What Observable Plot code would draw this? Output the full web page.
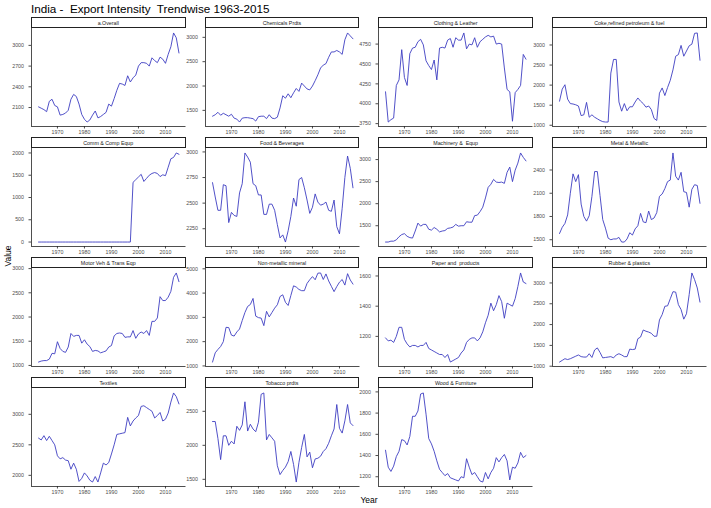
<!DOCTYPE html>
<html>
<head>
<meta charset="utf-8">
<script src="https://cdn.jsdelivr.net/npm/d3@7"></script>
<script src="https://cdn.jsdelivr.net/npm/@observablehq/plot@0.6"></script>
<style>
  html, body { margin: 0; padding: 0; background: #fff; }
  #chart { position: relative; width: 711px; height: 508px; overflow: hidden; font-family: "Liberation Sans", Arial, sans-serif; background: #fff; }
  .title { position: absolute; left: 31px; top: 2px; font-size: 11.7px; color: #000; white-space: pre; }
  .strip { position: absolute; box-sizing: border-box; border: 1px solid #222; background: #fff; font-size: 5.3px; color: #1a1a1a; text-align: center; white-space: pre; display: flex; align-items: center; justify-content: center; }
  .ylab { position: absolute; left: 8px; top: 256px; transform: translate(-50%, -50%) rotate(-90deg); font-size: 8.5px; color: #000; }
  .xlab { position: absolute; left: 369px; top: 499.5px; transform: translate(-50%, -50%); font-size: 8.5px; color: #000; }
  .panel { position: absolute; }
</style>
</head>
<body>
<div id="chart"></div>
<script>
const years = [1963,1964,1965,1966,1967,1968,1969,1970,1971,1972,1973,1974,1975,1976,1977,1978,1979,1980,1981,1982,1983,1984,1985,1986,1987,1988,1989,1990,1991,1992,1993,1994,1995,1996,1997,1998,1999,2000,2001,2002,2003,2004,2005,2006,2007,2008,2009,2010,2011,2012,2013,2014,2015];

const panelNames = ["a.Overall", "Chemicals Prdts", "Clothing & Leather", "Coke,refined petroleum & fuel",
  "Comm & Comp Equp", "Food & Beverages", "Machinery &  Equp", "Metal & Metallic",
  "Motor Veh & Trans Eqp", "Non-metallic mineral", "Paper and  products", "Rubber & plastics",
  "Textiles", "Tobacco prdts", "Wood & Furniture"];

const overall = [2110,2090,2070,2040,2190,2220,2130,2110,1990,2000, 2020,2060,2220,2290,2260,2150,2000,1930,1890,1920, 1990,2050,1950,1970,2000,2030,2150,2120,2230,2350, 2450,2440,2420,2560,2470,2530,2570,2700,2750,2750, 2740,2700,2820,2780,2750,2830,2800,2740,2870,2980, 3180,3110,2890];
const chemicals = [1380,1410,1460,1400,1440,1410,1380,1420,1340,1320, 1260,1340,1350,1350,1340,1330,1280,1370,1380,1380, 1330,1410,1340,1330,1360,1550,1800,1750,1840,1760, 1860,1950,1890,2060,2000,1940,1920,2000,2110,2230, 2370,2430,2460,2590,2700,2700,2730,2700,2650,2950, 3090,3030,2970];
const clothing = [4150,3770,3800,3820,4230,4300,4680,4330,4230,4630, 4700,4710,4780,4810,4740,4540,4480,4430,4550,4300, 4700,4710,4700,4800,4820,4710,4830,4800,4800,4890, 4690,4750,4740,4830,4710,4780,4810,4840,4860,4840, 4850,4750,4760,4750,4450,4180,4150,3780,4140,4180, 4230,4620,4560];
const coke = [1600,1900,2010,1650,1540,1530,1510,1480,1240,1260, 1570,1200,1260,1200,1160,1120,1090,1080,1080,2300, 2640,2640,1580,1350,1540,1360,1460,1460,1580,1680, 1600,1540,1450,1480,1390,1170,1120,1800,1930,1740, 1940,2120,2380,2720,2760,2990,2720,2850,2980,3020, 3290,3300,2620];
const comm = [0,0,0,0,0, 0,0,0,0,0, 0,0,0,0,0, 0,0,0,0,0, 0,0,0,0,0, 0,0,0,0,0, 0,0,0,0,0, 1340,1400,1460,1520,1360,1430,1500,1540,1560,1540,1470,1510,1490,1680,1870,1900,2000,1970];
const food = [2700,2560,2430,2430,2680,2670,2310,2410,2380,2370, 2600,2690,2990,2950,2900,2690,2670,2580,2580,2390, 2390,2490,2490,2430,2290,2160,2190,2120,2230,2370, 2550,2470,2730,2750,2650,2530,2400,2460,2590,2510, 2480,2490,2510,2430,2420,2530,2270,2200,2450,2750, 2960,2840,2650];
const machinery = [1130,1130,1150,1150,1180,1250,1300,1320,1260,1230, 1220,1380,1560,1490,1530,1530,1420,1400,1460,1420, 1360,1380,1390,1440,1450,1470,1530,1490,1500,1500, 1590,1580,1580,1730,1740,1820,1920,2130,2370,2440, 2550,2490,2480,2490,2460,2710,2830,2500,2760,2920, 3150,3050,2970];
const metal = [1580,1660,1710,1820,2100,2350,2250,2340,1960,1800, 1740,1810,2060,2380,2380,2070,1760,1650,1520,1500, 1510,1510,1530,1470,1470,1510,1590,1560,1640,1680, 1840,1730,1720,1870,1760,1780,1850,2060,2090,2160, 2250,2270,2620,2320,2270,2370,2120,2110,1920,2150, 2210,2200,1970];
const motor = [1070,1090,1100,1100,1130,1250,1240,1490,1350,1290, 1270,1380,1660,1600,1620,1620,1460,1530,1440,1390, 1290,1310,1300,1260,1280,1300,1380,1410,1610,1660, 1670,1660,1580,1590,1590,1720,1560,1650,1690,1660, 1720,1620,1910,1910,1980,2420,2340,2340,2410,2530, 2820,2910,2730];
const nonmetal = [1160,1540,1680,1800,2000,2590,2580,2270,2230,2400, 2520,2870,3200,3450,3530,3780,3050,2990,2970,2660, 3250,3020,3200,3380,3520,3860,3930,3620,3490,3900, 4300,4250,4150,4100,4100,4400,4550,4680,4550,4820, 4830,4560,4790,4500,4280,4060,4270,4450,4560,4330, 4800,4540,4370];
const paper = [1190,1170,1175,1160,1200,1260,1260,1180,1150,1130, 1140,1140,1130,1140,1140,1160,1120,1110,1100,1090, 1080,1080,1060,1080,1030,1040,1050,1060,1090,1110, 1160,1180,1190,1190,1170,1190,1230,1290,1340,1420, 1370,1410,1470,1430,1320,1420,1410,1400,1450,1530, 1620,1560,1550];
const rubber = [1100,1140,1180,1160,1180,1210,1240,1270,1230,1220, 1220,1300,1210,1390,1440,1330,1200,1210,1220,1230, 1200,1270,1300,1270,1230,1230,1410,1400,1410,1660, 1700,1870,1840,1820,1790,1720,1720,2110,2240,2440, 2450,2620,2790,2780,2480,2360,2130,2260,2720,3240, 3080,2880,2540];
const textiles = [2610,2580,2650,2570,2640,2570,2500,2320,2270,2290, 2250,2240,2100,2200,2100,1900,1950,2040,1990,1920, 1890,1980,1890,2040,2200,2170,2210,2350,2500,2670, 2680,2690,2700,2950,2810,2890,2940,2980,3130,3140, 3110,3080,3050,2940,2980,3030,2890,2920,3020,3200, 3350,3290,3170];
const tobacco = [2350,2350,2100,1790,2140,2140,2000,2060,2020,2280, 2220,2300,2640,2210,2310,2240,2200,2340,2750,2770, 2080,2160,2110,2060,1700,1570,1630,1680,1760,1910, 1720,1460,1750,1970,2160,1830,1900,1670,1800,1810, 1840,1910,1950,2030,2140,2240,2600,2250,2180,2360, 2600,2330,2290];
const wood = [1450,1290,1250,1300,1390,1440,1550,1540,1500,1580, 1770,1770,1820,1980,1990,1790,1560,1510,1440,1350, 1270,1240,1210,1230,1190,1180,1170,1160,1200,1190, 1370,1290,1220,1240,1200,1160,1150,1240,1180,1240, 1280,1380,1340,1380,1410,1350,1170,1290,1280,1330, 1430,1380,1400];

const seriesValues = [overall, chemicals, clothing, coke, comm, food, machinery, metal, motor, nonmetal, paper, rubber, textiles, tobacco, wood];

const yTicks = [
  [2100,2400,2700,3000], [1500,2000,2500,3000], [3750,4000,4250,4500,4750], [1000,1500,2000,2500,3000],
  [0,500,1000,1500,2000], [2250,2500,2750,3000], [1500,2000,2500,3000], [1500,1800,2100,2400],
  [1000,1500,2000,2500,3000], [1000,2000,3000,4000,5000], [1200,1400,1600], [1000,1500,2000,2500,3000],
  [2000,2500,3000], [1500,2000,2500], [1200,1400,1600,1800,2000]
];
const xTicks = [1970,1980,1990,2000,2010];

const chart = document.getElementById("chart");
const title = document.createElement("div");
title.className = "title";
title.textContent = "India -  Export Intensity  Trendwise 1963-2015";
chart.appendChild(title);

const ML = 31, MR = 4, MB = 10;
const panelW = 154.5, plotH = 98, stripH = 10.5;
const colPitch = 173.7, rowPitch = 120;

function pad(ext) { const r = ext[1] - ext[0]; return [ext[0] - 0.05 * r, ext[1] + 0.05 * r]; }
const xDomain = pad(d3.extent(years));

seriesValues.forEach((vals, i) => {
  const r = Math.floor(i / 4), c = i % 4;
  const left = 31 + colPitch * c;
  const stripTop = 17 + rowPitch * r;
  const plotTop = stripTop + stripH;
  const rows = years.map((yr, k) => ({year: yr, value: vals[k]}));
  const yDomain = pad(d3.extent(vals));

  const strip = document.createElement("div");
  strip.className = "strip";
  strip.style.left = left + "px";
  strip.style.top = stripTop + "px";
  strip.style.width = panelW + "px";
  strip.style.height = (stripH + 0.5) + "px";
  strip.textContent = panelNames[i];
  chart.appendChild(strip);

  const svg = Plot.plot({
    width: panelW + ML + MR,
    height: plotH + MB,
    marginLeft: ML, marginRight: MR, marginTop: 0, marginBottom: MB,
    style: {background: "transparent", overflow: "visible", fontFamily: "'Liberation Sans', Arial, sans-serif", fontSize: "5.3px", color: "#4d4d4d"},
    x: {domain: xDomain, ticks: xTicks, tickFormat: d => String(d), tickSize: 2.5, tickPadding: 1.2, label: null},
    y: {domain: yDomain, ticks: yTicks[i], tickFormat: d => String(d), tickSize: 2.5, tickPadding: 5, label: null},
    marks: [
      Plot.ruleX([xDomain[0]], {stroke: "#222", strokeWidth: 0.8}),
      Plot.ruleY([yDomain[0]], {stroke: "#222", strokeWidth: 0.8}),
      Plot.line(rows, {x: "year", y: "value", stroke: "#3d3dc2", strokeWidth: 0.9})
    ]
  });
  const wrap = document.createElement("div");
  wrap.className = "panel";
  wrap.style.left = (left - ML) + "px";
  wrap.style.top = plotTop + "px";
  wrap.appendChild(svg);
  chart.appendChild(wrap);
});

const ylab = document.createElement("div");
ylab.className = "ylab"; ylab.textContent = "Value";
chart.appendChild(ylab);
const xlab = document.createElement("div");
xlab.className = "xlab"; xlab.textContent = "Year";
chart.appendChild(xlab);
</script>
</body>
</html>
